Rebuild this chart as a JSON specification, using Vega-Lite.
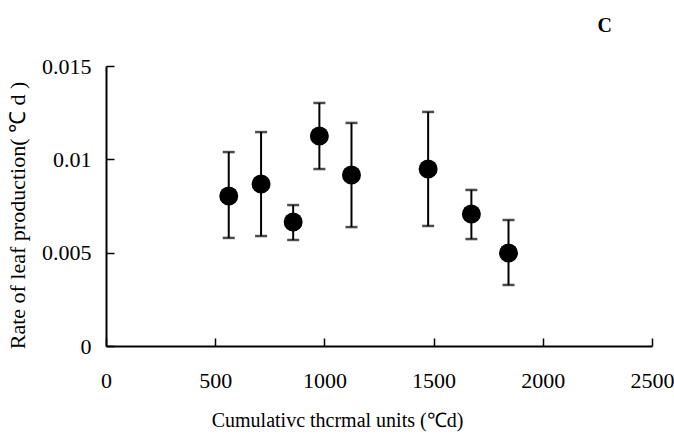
{
  "$schema": "https://vega.github.io/schema/vega-lite/v6.json",
  "width": 546,
  "height": 280,
  "autosize": {"type": "none"},
  "padding": {"left": 106, "top": 66, "right": 22, "bottom": 89},
  "background": "white",
  "config": {
    "view": {"stroke": null},
    "font": "Liberation Serif",
    "axis": {
      "grid": false,
      "labelFlush": false,
      "domainColor": "black",
      "domainWidth": 2,
      "tickColor": "black",
      "tickWidth": 1.5,
      "tickSize": -8,
      "labelFont": "Liberation Serif",
      "labelFontSize": 22,
      "labelColor": "black",
      "titleFont": "Liberation Serif",
      "titleFontWeight": "normal",
      "titleColor": "black"
    },
    "axisX": {"labelPadding": 32, "titlePadding": 19, "titleFontSize": 20, "titleX": 231},
    "axisY": {"labelPadding": 23, "titlePadding": 12, "titleFontSize": 22, "titleY": 149}
  },
  "title": {"text": "C", "anchor": "end", "frame": "group", "dx": -40, "offset": 19, "fontSize": 20, "fontWeight": "bold", "font": "Liberation Serif", "color": "black"},
  "data": {
    "values": [
      {"tu": 562, "rate": 0.00804, "lo": 0.00579, "hi": 0.01039},
      {"tu": 710, "rate": 0.00868, "lo": 0.00589, "hi": 0.01146},
      {"tu": 857, "rate": 0.00664, "lo": 0.00568, "hi": 0.00755},
      {"tu": 977, "rate": 0.01125, "lo": 0.00948, "hi": 0.01302},
      {"tu": 1124, "rate": 0.00916, "lo": 0.00637, "hi": 0.01195},
      {"tu": 1475, "rate": 0.00948, "lo": 0.00643, "hi": 0.01254},
      {"tu": 1673, "rate": 0.00707, "lo": 0.00573, "hi": 0.00836},
      {"tu": 1843, "rate": 0.00498, "lo": 0.00327, "hi": 0.00675}
    ]
  },
  "layer": [
    {
      "mark": {"type": "errorbar", "ticks": {"size": 12, "thickness": 2.5, "color": "black"}, "rule": {"strokeWidth": 2, "color": "black"}},
      "encoding": {
        "x": {"field": "tu", "type": "quantitative", "scale": {"domain": [0, 2500], "nice": false}, "axis": {"title": "Cumulativc thcrmal units (℃d)", "values": [0, 500, 1000, 1500, 2000, 2500], "format": "d"}},
        "y": {"field": "lo", "type": "quantitative", "scale": {"domain": [0, 0.015], "nice": false}, "axis": {"title": "Rate of leaf production( ℃ d )", "values": [0, 0.005, 0.01, 0.015], "format": ".3~f"}},
        "y2": {"field": "hi"}
      }
    },
    {
      "mark": {"type": "point", "filled": true, "shape": "circle", "size": 360, "color": "black", "opacity": 1},
      "encoding": {
        "x": {"field": "tu", "type": "quantitative", "scale": {"domain": [0, 2500], "nice": false}, "axis": {"title": "Cumulativc thcrmal units (℃d)", "values": [0, 500, 1000, 1500, 2000, 2500], "format": "d"}},
        "y": {"field": "rate", "type": "quantitative", "scale": {"domain": [0, 0.015], "nice": false}, "axis": {"title": "Rate of leaf production( ℃ d )", "values": [0, 0.005, 0.01, 0.015], "format": ".3~f"}}
      }
    }
  ]
}
